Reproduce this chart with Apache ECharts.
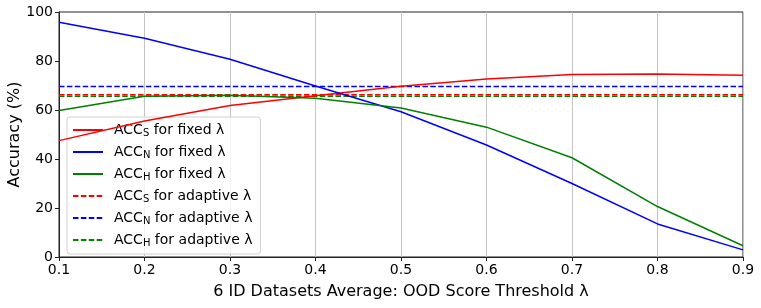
<!DOCTYPE html>
<html><head><meta charset="utf-8">
<script src="https://cdn.jsdelivr.net/npm/echarts@6/dist/echarts.min.js"></script>
<style>html,body{margin:0;padding:0;background:#fff}#c{width:761px;height:308px}</style>
</head><body><div id="c"></div>
<script>
const thresholds = [0.1, 0.2, 0.3, 0.4, 0.5, 0.6, 0.7, 0.8, 0.9];
const accS_fixed = [47.5, 55.5, 61.8, 65.8, 69.7, 72.7, 74.5, 74.7, 74.2];
const accN_fixed = [95.8, 89.3, 80.7, 69.8, 59.3, 45.7, 30.0, 13.5, 2.9];
const accH_fixed = [59.8, 65.6, 66.0, 64.8, 60.8, 53.0, 40.5, 20.6, 4.6];
const accS_adaptive = 66.2;
const accN_adaptive = 69.6;
const accH_adaptive = 65.6;
const yTicks = [0, 20, 40, 60, 80, 100];

const font = 'DejaVu Sans';
const pair = (xs, ys) => xs.map((x, i) => [x, ys[i]]);
const flat = v => [[thresholds[0], v], [thresholds[thresholds.length - 1], v]];

const names = ['ACC_S for fixed λ','ACC_N for fixed λ','ACC_H for fixed λ','ACC_S for adaptive λ','ACC_N for adaptive λ','ACC_H for adaptive λ'];
function mk(name, data, color, dashed) {
  return {name, type:'line', data, symbol:'none', lineStyle:{color, width:1.5, type: dashed ? [5.5,2.4] : 'solid'}, itemStyle:{color}, z: dashed ? 3 : 4, animation:false};
}
const chart = echarts.init(document.getElementById('c'), null, {renderer:'canvas'});
chart.setOption({
  animation:false,
  textStyle:{fontFamily:font},
  grid:{left:59, right:18, top:12, bottom:51, containLabel:false, outerBoundsMode:'none', show:true, borderColor:'#222', borderWidth:1, backgroundColor:'transparent'},
  xAxis:{type:'value', min:0.1, max:0.9, interval:0.1,
    name:'6 ID Datasets Average: OOD Score Threshold λ', nameLocation:'middle', nameGap:27, nameMoveOverlap:false,
    nameTextStyle:{fontFamily:font, fontSize:16, color:'#000'},
    axisLine:{show:true, lineStyle:{color:'#222', width:1}},
    axisTick:{show:true, length:4, lineStyle:{color:'#222'}},
    axisLabel:{fontFamily:font, fontSize:14, color:'#000', margin:6, formatter:v=>v.toFixed(1)},
    splitLine:{show:true, lineStyle:{color:'#c4c4c4', width:1}}},
  yAxis:{type:'value', min:yTicks[0], max:yTicks[yTicks.length-1], interval:20,
    name:'Accuracy (%)', nameLocation:'middle', nameGap:36, nameMoveOverlap:false,
    nameTextStyle:{fontFamily:font, fontSize:16, color:'#000'},
    axisLine:{show:true, lineStyle:{color:'#222', width:1}},
    axisTick:{show:true, length:4, lineStyle:{color:'#222'}},
    axisLabel:{fontFamily:font, fontSize:14, color:'#000', margin:6},
    splitLine:{show:false}},
  legend:{orient:'vertical', left:67, top:117, itemWidth:30, itemHeight:14, itemGap:6,
    padding:[5,8,6,5], backgroundColor:'rgba(255,255,255,0.8)', borderColor:'#d0d0d0', borderWidth:1, borderRadius:3,
    itemStyle:{opacity:0},
    data:names,
    formatter: n => { const [a, rest] = n.split(' for '); const sub = a.split('_')[1]; return '{m|ACC}{s|' + sub + '}{m| for ' + rest + '}'; },
    textStyle:{fontFamily:font, fontSize:14, color:'#000', padding:[0,0,0,6],
      rich:{m:{fontFamily:font, fontSize:14, color:'#000', lineHeight:18}, s:{fontFamily:font, fontSize:10, color:'#000', lineHeight:18, padding:[6,0,0,0]}}}},
  series:[
    mk(names[0], pair(thresholds, accS_fixed), '#ff0000', false),
    mk(names[1], pair(thresholds, accN_fixed), '#0000ff', false),
    mk(names[2], pair(thresholds, accH_fixed), '#008000', false),
    mk(names[3], flat(accS_adaptive), '#ff0000', true),
    mk(names[4], flat(accN_adaptive), '#0000ff', true),
    mk(names[5], flat(accH_adaptive), '#008000', true)
  ]
});
</script></body></html>
